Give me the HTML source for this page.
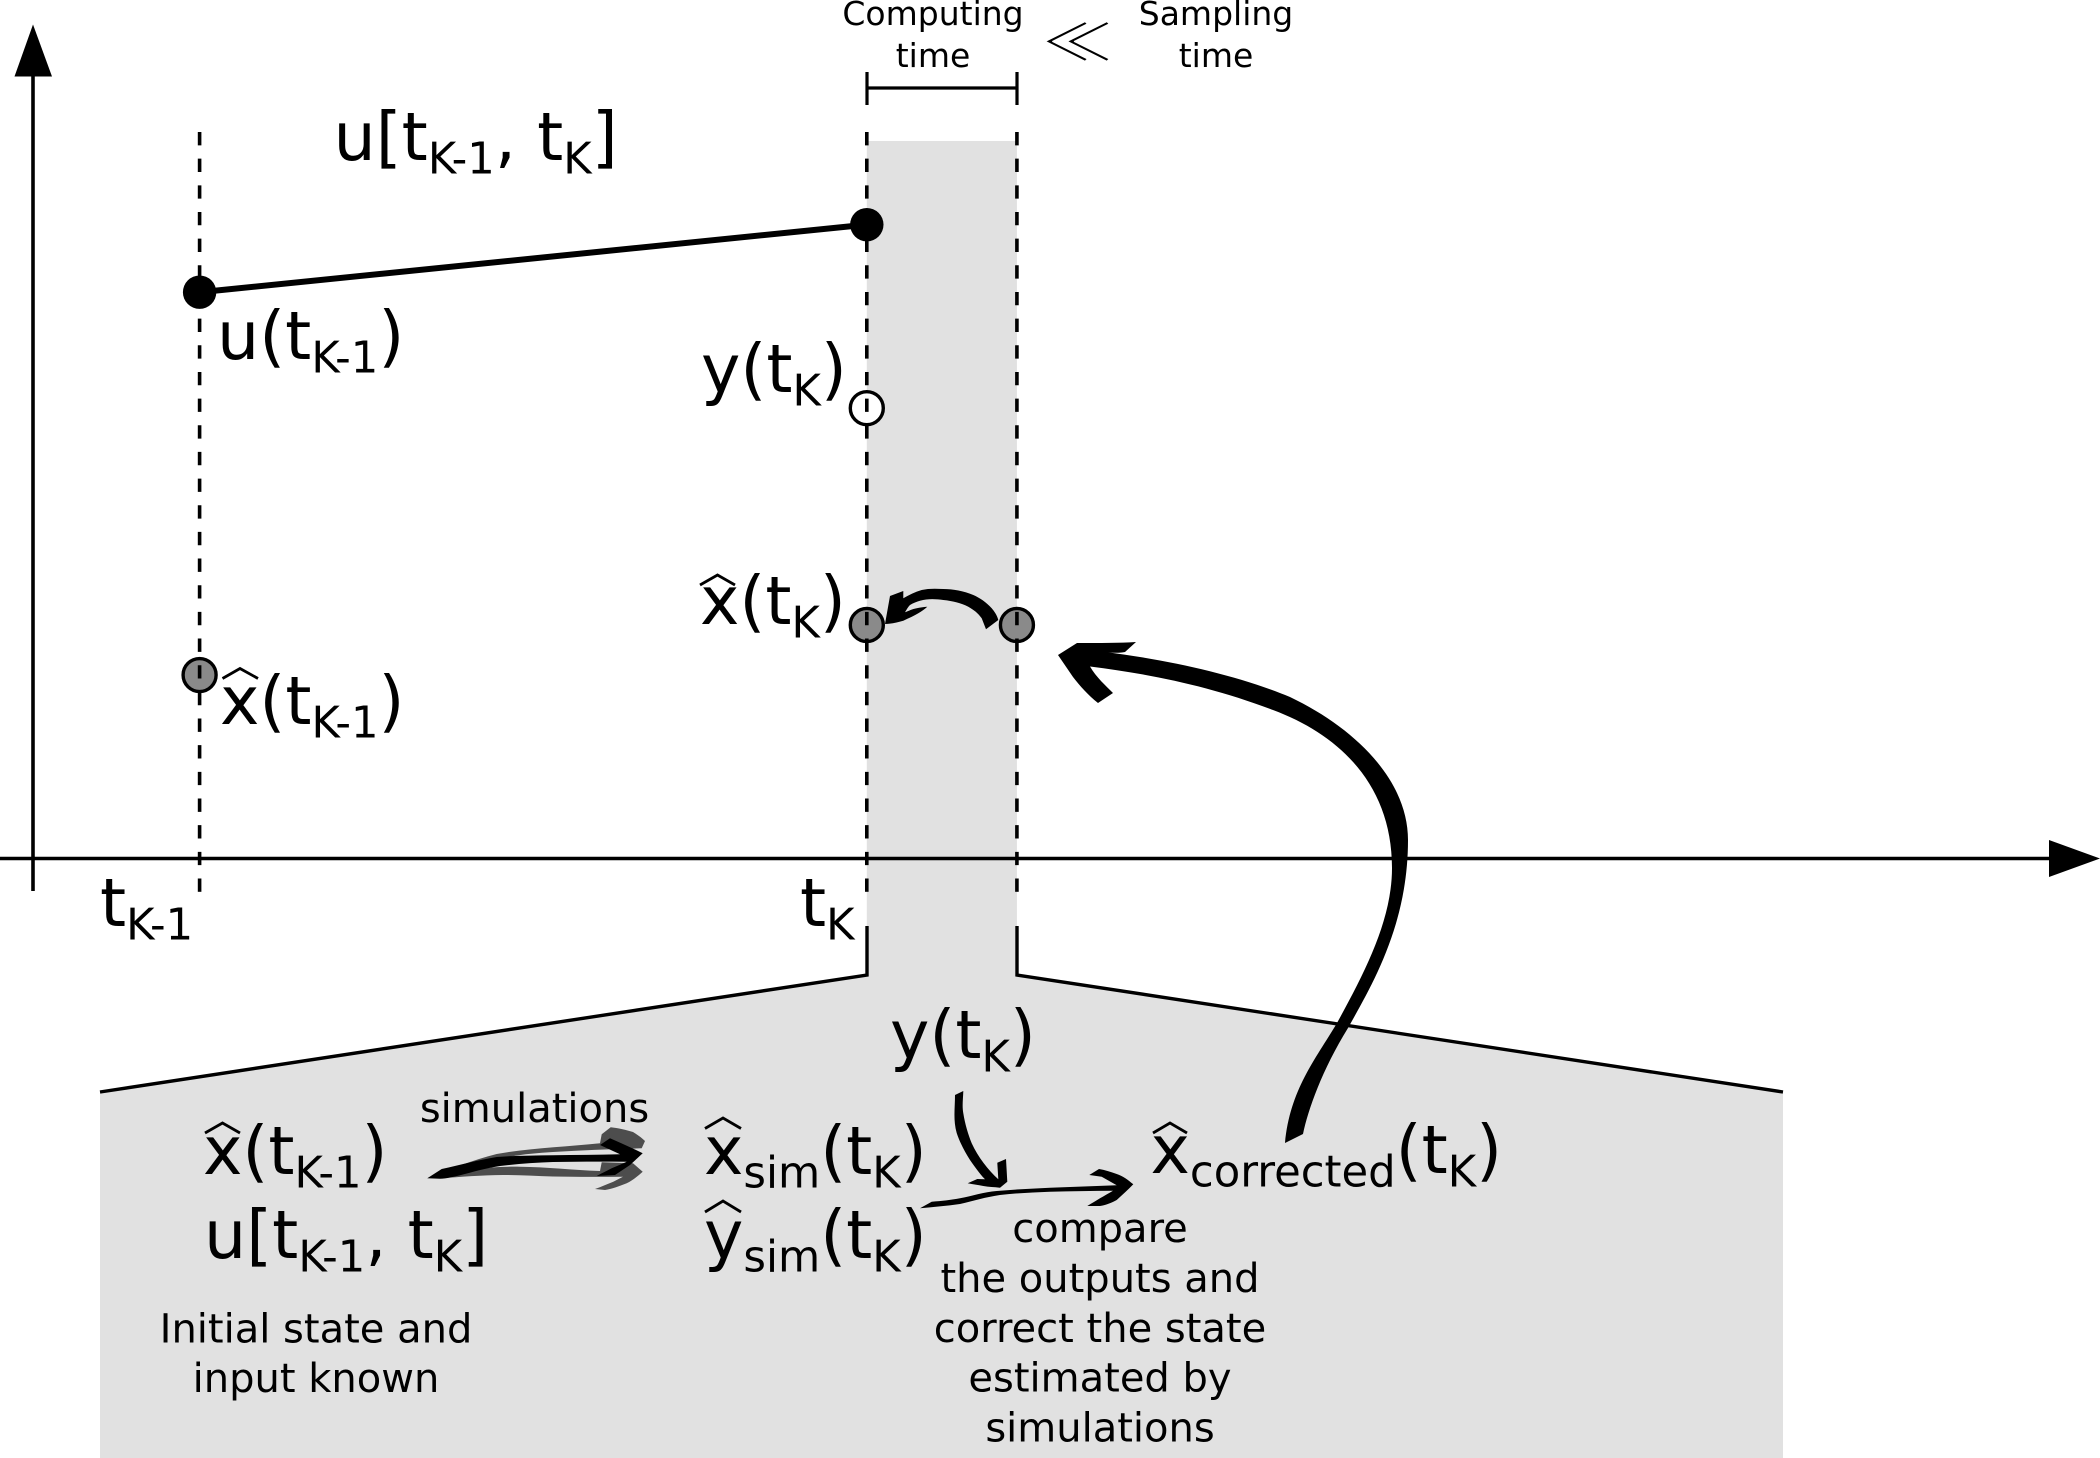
<!DOCTYPE html>
<html lang="en">
<head>
<meta charset="utf-8">
<title>Computing time versus sampling time diagram</title>
<style>
html,body{margin:0;padding:0;background:#fff;}
svg{display:block;}
text{font-family:"DejaVu Sans","Liberation Sans",sans-serif;fill:#000;}
.big{font-size:66.6px;}
.mid{font-size:40px;}
.small{font-size:33px;}
.sub{font-size:43.3px;}
.mid,.small{text-anchor:middle;}
.hat{fill:none;stroke:#000;stroke-width:2.8;}
</style>
</head>
<body>
<svg id="diagram" xmlns="http://www.w3.org/2000/svg" width="2100" height="1458" viewBox="0 0 2100 1458">
  <rect x="0" y="0" width="2100" height="1458" fill="#fff"/>
  <g id="under"></g>

  <path d="M867 926V975L100 1092" fill="none" stroke="#000" stroke-width="3.4"/>
  <path d="M1017 926V975L1783 1092" fill="none" stroke="#000" stroke-width="3.4"/>

  <path d="M33 70V891" stroke="#000" stroke-width="3.6" fill="none"/>
  <path d="M33 24.5L52 76.5H14.5Z" fill="#000"/>
  <path d="M0 858.5H2055" stroke="#000" stroke-width="3.4" fill="none"/>
  <path d="M2100 858.5L2049 840V877Z" fill="#000"/>

  <path d="M867 72V105M1017 72V105M867 88H1017" fill="none" stroke="#000" stroke-width="3.2"/>
  <g id="marks"></g>

  <text class="small" x="933" y="25">Computing</text>
  <text class="small" x="933" y="67">time</text>
  <text transform="translate(1077.5 61) scale(1 0.72)" text-anchor="middle" stroke="#fff" stroke-width="1.7" style="font-size:72px;font-family:'Noto Sans CJK JP','DejaVu Sans',sans-serif;">≪</text>
  <text class="small" x="1216" y="25">Sampling</text>
  <text class="small" x="1216" y="67">time</text>

  <text class="big" x="333.5" y="160">u[t<tspan class="sub" dy="13.5">K-1</tspan><tspan dy="-13.5">, t</tspan><tspan class="sub" dy="13.5">K</tspan><tspan dy="-13.5">]</tspan></text>
  <text class="big" x="217" y="359">u(t<tspan class="sub" dy="13.5">K-1</tspan><tspan dy="-13.5">)</tspan></text>
  <text class="big" x="701" y="392">y(t<tspan class="sub" dy="13.5">K</tspan><tspan dy="-13.5">)</tspan></text>
  <text class="big" x="700" y="624">x(t<tspan class="sub" dy="13.5">K</tspan><tspan dy="-13.5">)</tspan></text>
  <polyline class="hat" points="700,585 717.5,575 735,585"/>
  <text class="big" x="220" y="724">x(t<tspan class="sub" dy="13.5">K-1</tspan><tspan dy="-13.5">)</tspan></text>
  <polyline class="hat" points="222.5,678.5 240,668.5 258,678.5"/>
  <text class="big" x="100" y="926">t<tspan class="sub" dy="13.5">K-1</tspan></text>
  <text class="big" x="800" y="926">t<tspan class="sub" dy="13.5">K</tspan></text>

  <text class="big" x="890" y="1058">y(t<tspan class="sub" dy="13.5">K</tspan><tspan dy="-13.5">)</tspan></text>
  <text class="big" x="203" y="1174">x(t<tspan class="sub" dy="13.5">K-1</tspan><tspan dy="-13.5">)</tspan></text>
  <polyline class="hat" points="205,1133 222.5,1123 240,1133"/>
  <text class="big" x="204" y="1258">u[t<tspan class="sub" dy="13.5">K-1</tspan><tspan dy="-13.5">, t</tspan><tspan class="sub" dy="13.5">K</tspan><tspan dy="-13.5">]</tspan></text>
  <text class="big" x="704" y="1174">x<tspan class="sub" dy="13.5">sim</tspan><tspan dy="-13.5">(t</tspan><tspan class="sub" dy="13.5">K</tspan><tspan dy="-13.5">)</tspan></text>
  <polyline class="hat" points="705,1128.5 723,1118 741,1128.5"/>
  <text class="big" x="704" y="1258">y<tspan class="sub" dy="13.5">sim</tspan><tspan dy="-13.5">(t</tspan><tspan class="sub" dy="13.5">K</tspan><tspan dy="-13.5">)</tspan></text>
  <polyline class="hat" points="705,1212 723,1201 741,1212"/>
  <text class="big" x="1150.5" y="1173">x<tspan class="sub" dy="13.5">corrected</tspan><tspan dy="-13.5">(t</tspan><tspan class="sub" dy="13.5">K</tspan><tspan dy="-13.5">)</tspan></text>
  <polyline class="hat" points="1153,1133 1170,1123 1187,1133"/>

  <text class="mid" x="534.5" y="1122">simulations</text>
  <text class="mid" x="316" y="1342.5">Initial state and</text>
  <text class="mid" x="316" y="1392">input known</text>
  <text class="mid" x="1100" y="1242">compare</text>
  <text class="mid" x="1100" y="1292">the outputs and</text>
  <text class="mid" x="1100" y="1342">correct the state</text>
  <text class="mid" x="1100" y="1391.5">estimated by</text>
  <text class="mid" x="1100" y="1441.5">simulations</text>

  <path fill="#000" d="M1285 1143L1303 1134C1308 1110 1322 1070 1348 1028C1372 985 1408 925 1408 840C1408 780 1355 728 1290 697C1240 676 1170 660 1105 652C1113 653 1119 653 1125 652L1136 642C1120 643 1100 643 1077 643L1058 655L1073 677C1080 686 1088 695 1098 703L1113 693C1106 686 1096 677 1090 666.5C1150 674 1210 686 1273 710C1340 735 1392 785 1392 868C1392 920 1365 972 1337 1023C1315 1060 1290 1090 1285 1143Z"/>
  <path fill="#000" d="M986 629.3L998.3 620C997 615 994 611 991.7 608.3C986 602 980 598 973.3 595C964 591 953 589 943.3 589C935 588.5 928 588.5 921.7 590C915 592 909 595 903.3 598.3L903.3 591L890 596L885 624C892 624 898 622 903.3 620.7C909 618 914 616 918.3 613.3C922 611 925 609 927.3 606.7C923 607 920 607.5 916.7 608.3C912 609 909 611 905 612.3C907 609 908 607 910 605C913 603 917 601.5 920 600.7C928 598.5 936 599 943.3 600C953 601 961 603 968.3 606.7C974 610 978 613 981.7 618.3Z"/>
  <path fill="#000" d="M955 1095L963.3 1091C963 1100 962 1106 963.3 1113.3C965 1124 968 1134 971.7 1143.3C978 1157 988 1170 998.3 1179.3L997.3 1162.7L1006 1159L1007.3 1181.7L1000 1187.7C994 1187 989 1187 983.3 1186C978 1185 973 1184.5 967.7 1183.3L977.3 1179L985 1179.3C979 1173 975 1167 970 1160C965 1152 960 1143 956.7 1133C953 1120 955 1108 955 1095Z"/>
  <path fill="#000" d="M920 1208.3L931.7 1201.7C942 1201 951 1200 960 1198.3C972 1196 984 1192 996.7 1191C1014 1189.5 1032 1188.5 1050 1187.7C1072 1187 1095 1186 1116.7 1185.3L1101.7 1176.7L1089.3 1175L1099 1169C1105 1170 1111 1172 1116.7 1174C1123 1176 1128 1180 1133.3 1184.3C1128 1190 1122 1195 1116.7 1200C1111 1203 1106 1205 1100 1206H1087.3C1092 1203 1096 1201 1100 1198.3C1104 1196 1109 1193 1113 1190.7C1092 1191 1071 1191 1050 1191.7C1033 1192.5 1016 1193 1000 1195C986 1197 973 1201 960 1204C946 1206 933 1207 920 1208.3Z"/>
  <path fill="#4d4d4d" d="M427.3 1178.3C450 1169 473 1160 496.7 1154C530 1148 565 1147 600 1143.3L601.7 1134.3L610.7 1127.3C618 1128 626 1130 633 1132C638 1135 642 1138 645 1141L641.7 1148.3C612 1149 582 1150 553 1152C538 1153 524 1154 510 1156.7C496 1159 483 1164 470 1167.7C456 1172 441 1176 427.3 1178.3Z"/>
  <path fill="#4d4d4d" d="M440 1178.3C451 1176 462 1172 473 1170C488 1167 504 1166.5 520 1166.7C547 1167 573 1170 600 1171L601.7 1162.3L633 1163.3L642.7 1171.7C638 1176 633 1180 626.7 1183.3C620 1186 612 1189 605 1190L595 1189C601 1187 607 1184 613.3 1181.7C617 1180 620 1178 623 1176.7C600 1177 576 1177 553 1176.5C536 1176 520 1175 503 1175C482 1175 461 1177 440 1178.3Z"/>
  <path fill="#000" d="M427.3 1178.3L441.7 1169C460 1165 478 1160 496.7 1157C515 1155.5 534 1155.5 553 1155.2C575 1155 598 1155 620 1154.3L600 1145L610 1138.3C621 1143 632 1148 642.7 1153.3L630 1165L615 1175L596.7 1176C602 1173 607 1171 611.7 1168.3C617 1166 622 1164 626.7 1161.7C602 1161.5 577 1161.5 553 1162C535 1162.5 517 1164 500 1166C486 1168 473 1172 460 1175.3C453 1177 447 1178.5 440 1178.8Z"/>
</svg>
<script>
const svgNS = 'http://www.w3.org/2000/svg';
const timeStamps = [0, 1];
const computingEnd = [1.225];
const inputTimes = [0, 1];
const inputValues = [67.9, 76.0];
const outputTimes = [1];
const outputValues = [54.0];
const stateTimes = [0, 1, 1.225];
const stateValues = [22.0, 28.0, 28.0];

function xScale(t) { return 199.6 + 667.2 * t; }
function yScale(v) { return 858.5 - 8.34 * v; }
function make(tag, attrs) {
  const el = document.createElementNS(svgNS, tag);
  Object.keys(attrs).forEach(function (k) { el.setAttribute(k, attrs[k]); });
  return el;
}

const under = document.getElementById('under');
const marks = document.getElementById('marks');

const xStart = xScale(timeStamps[1]);
const xEnd = xScale(computingEnd[0]);
const band = make('path', { d: 'M' + xStart + ' 141H' + xEnd + 'V975L1783 1092V1458H100V1092L' + xStart + ' 975Z', fill: '#e1e1e1' });


under.appendChild(band);

const inputLine = make('line', {
  x1: xScale(inputTimes[0]), y1: yScale(inputValues[0]),
  x2: xScale(inputTimes[1]), y2: yScale(inputValues[1]),
  stroke: '#000', 'stroke-width': 6
});


marks.appendChild(inputLine);

inputTimes.forEach(function (t, i) {
  const dot = make('circle', { cx: xScale(t), cy: yScale(inputValues[i]), r: 16.7, fill: '#000' });
  
  
  marks.appendChild(dot);
});
outputTimes.forEach(function (t, i) {
  const dot = make('circle', { cx: xScale(t), cy: yScale(outputValues[i]), r: 16.5, fill: '#fff', stroke: '#000', 'stroke-width': 3.4 });
  
  
  marks.appendChild(dot);
});
stateTimes.forEach(function (t, i) {
  const dot = make('circle', { cx: xScale(t), cy: yScale(stateValues[i]), r: 16.5, fill: '#8a8a8a', stroke: '#000', 'stroke-width': 3.4 });
  
  
  marks.appendChild(dot);
});
timeStamps.concat(computingEnd).forEach(function (t) {
  const guide = make('line', {
    x1: xScale(t), y1: 132, x2: xScale(t), y2: 893,
    stroke: '#000', 'stroke-width': 3.6, 'stroke-dasharray': '13.33 13.33'
  });
  
  
  marks.appendChild(guide);
});
</script>
</body>
</html>
